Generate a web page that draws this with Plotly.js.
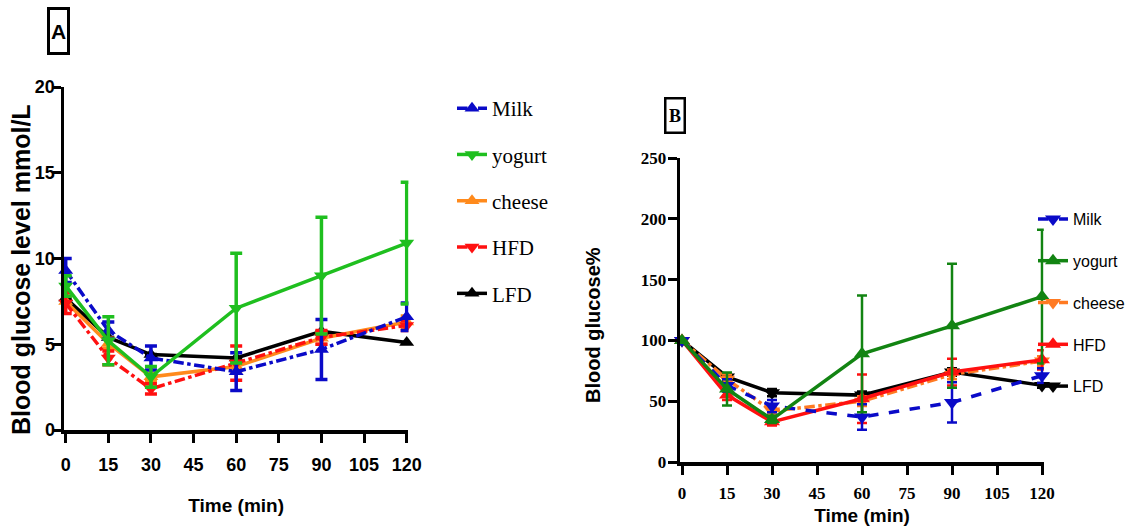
<!DOCTYPE html>
<html>
<head>
<meta charset="utf-8">
<script src="https://cdn.plot.ly/plotly-3.0.1.min.js"></script>
<style>html,body{margin:0;padding:0;background:#fff;}#chart{width:1133px;height:531px;}</style>
</head>
<body>
<div id="chart"></div>
<script>
// ---------- data ----------
const time = [0, 15, 30, 60, 90, 120];
const seriesNames = ["Milk", "yogurt", "cheese", "HFD", "LFD"];

// Panel A: blood glucose level (mmol/L)
const milkA      = [9.3, 5.8, 4.2, 3.4, 4.7, 6.6];
const milkAErr   = [0.7, 0.5, 0.7, 1.1, 1.75, 0.8];
const yogurtA    = [8.4, 5.2, 3.1, 7.1, 9.0, 10.9];
const yogurtAErr = [0.6, 1.4, 0.6, 3.2, 3.4, 3.55];
const cheeseA    = [7.5, 5.05, 3.1, 3.7, 5.35, 6.3];
const cheeseAErr = [0.3, 0.3, 0.2, 0.3, 0.35, 0.35];
const hfdA       = [7.4, 4.2, 2.4, 3.9, 5.4, 6.1];
const hfdAErr    = [0.6, 0.4, 0.3, 1.0, 0.4, 0.3];
const lfdA       = [7.7, 5.4, 4.4, 4.2, 5.75, 5.1];
const lfdAErr    = [0, 0, 0, 0, 0, 0];

// Panel B: blood glucose %
const milkB      = [100, 63, 46, 37, 49, 71];
const milkBErr   = [0, 5, 5, 10.5, 16.5, 6];
const yogurtB    = [100, 60, 35, 89, 112, 136];
const yogurtBErr = [0, 13.5, 3, 48, 51, 55];
const cheeseB    = [100, 68, 42, 50, 72, 83];
const cheeseBErr = [0, 4, 3, 4, 4, 4];
const hfdB       = [100, 55, 33, 52, 74, 84];
const hfdBErr    = [0, 4, 3, 20, 11, 8];
const lfdB       = [100, 70, 57, 55, 74, 63];
const lfdBErr    = [0, 3, 3, 3, 3, 2];

const xTicks = [0, 15, 30, 45, 60, 75, 90, 105, 120];
const yTicksA = [0, 5, 10, 15, 20];
const yTicksB = [0, 50, 100, 150, 200, 250];

// ---------- styles ----------
const stylesA = [
  {color: "#0a0ac8", dash: "dashdot", symbol: "triangle-up"},
  {color: "#1fbf1f", dash: "solid",   symbol: "triangle-down"},
  {color: "#ff8a1c", dash: "solid",   symbol: "triangle-up"},
  {color: "#ff1010", dash: "dashdot", symbol: "triangle-down"},
  {color: "#000000", dash: "solid",   symbol: "triangle-up"}
];
const stylesB = [
  {color: "#0a0ac8", dash: "dash",    symbol: "triangle-down"},
  {color: "#128412", dash: "solid",   symbol: "triangle-up"},
  {color: "#ff7a22", dash: "dashdot", symbol: "triangle-down"},
  {color: "#ff1010", dash: "solid",   symbol: "triangle-up"},
  {color: "#000000", dash: "solid",   symbol: "triangle-down"}
];

const valsA = [milkA, yogurtA, cheeseA, hfdA, lfdA];
const errsA = [milkAErr, yogurtAErr, cheeseAErr, hfdAErr, lfdAErr];
const valsB = [milkB, yogurtB, cheeseB, hfdB, lfdB];
const errsB = [milkBErr, yogurtBErr, cheeseBErr, hfdBErr, lfdBErr];

const traces = [];
const order = [4, 2, 3, 0, 1];
order.forEach(i => {
  const s = stylesA[i];
  traces.push({
    x: time, y: valsA[i], name: seriesNames[i], type: "scatter", mode: "lines+markers",
    xaxis: "x", yaxis: "y", legend: "legend", legendrank: i + 1,
    line: {color: s.color, width: 3.5, dash: s.dash},
    marker: {color: s.color, symbol: s.symbol, size: 13},
    error_y: {type: "data", array: errsA[i], visible: true, color: s.color, thickness: 3.5, width: 6},
    cliponaxis: false, legendgroup: "a" + i
  });
});
order.forEach(i => {
  const s = stylesB[i];
  traces.push({
    x: time, y: valsB[i], name: seriesNames[i], type: "scatter", mode: "lines+markers",
    xaxis: "x2", yaxis: "y2", legend: "legend2", legendrank: i + 1,
    line: {color: s.color, width: 3.5, dash: s.dash},
    marker: {color: s.color, symbol: s.symbol, size: 14},
    error_y: {type: "data", array: errsB[i], visible: true, color: s.color, thickness: 2.5, width: 5},
    cliponaxis: false, legendgroup: "b" + i
  });
});

const W = 1133, H = 531;
const fx = p => p / W;
const fy = p => 1 - p / H;

const serif = "Liberation Serif";
const sans = "Liberation Sans";

const axisCommon = {
  showline: true, linecolor: "#000", linewidth: 3.5, mirror: false,
  ticks: "outside", ticklen: 9, tickwidth: 3, tickcolor: "#000",
  showgrid: false, zeroline: false, fixedrange: true
};

const layout = {
  width: W, height: H,
  margin: {l: 0, r: 0, t: 0, b: 0},
  paper_bgcolor: "#fff", plot_bgcolor: "#fff",
  showlegend: true,
  xaxis: Object.assign({}, axisCommon, {
    domain: [fx(64.0), fx(408.4)], range: [-0.6, 120.6], tickvals: xTicks,
    tickfont: {family: sans, size: 18, color: "#000", weight: "bold"}, ticklabelstandoff: 7,
    anchor: "y",
    title: {text: "<b>Time (min)</b>", font: {family: sans, size: 19, color: "#000"}, standoff: 25}
  }),
  yaxis: Object.assign({}, axisCommon, {
    domain: [fy(430), fy(87)], range: [0, 20], tickvals: yTicksA, ticklen: 8,
    tickfont: {family: sans, size: 18, color: "#000", weight: "bold"}, ticklabelstandoff: -6,
    anchor: "x"
  }),
  xaxis2: Object.assign({}, axisCommon, {
    domain: [fx(680.2), fx(1043.8)], range: [-0.6, 120.6], tickvals: xTicks,
    tickfont: {family: serif, size: 17, color: "#000", weight: "bold"}, ticklabelstandoff: 4,
    anchor: "y2",
    title: {text: "<b>Time (min)</b>", font: {family: sans, size: 19, color: "#000"}, standoff: 8}
  }),
  yaxis2: Object.assign({}, axisCommon, {
    domain: [fy(462), fy(158)], range: [0, 250], tickvals: yTicksB,
    tickfont: {family: serif, size: 17, color: "#000", weight: "bold"}, ticklabelstandoff: -2,
    anchor: "x2"
  }),
  legend: {
    x: fx(452), y: fy(88), xanchor: "left", yanchor: "top",
    font: {family: serif, size: 21, color: "#000"},
    bgcolor: "rgba(0,0,0,0)", tracegroupgap: 16, itemwidth: 30, traceorder: "grouped"
  },
  legend2: {
    x: fx(1033), y: fy(202), xanchor: "left", yanchor: "top",
    font: {family: sans, size: 16, color: "#000"},
    bgcolor: "rgba(0,0,0,0)", tracegroupgap: 18, itemwidth: 30, traceorder: "grouped"
  },
  annotations: [
    {text: "<b>Blood glucose level mmol/L</b>", xref: "paper", yref: "paper", x: fx(21), y: fy(270),
     xanchor: "center", yanchor: "middle", textangle: -90, showarrow: false,
     font: {family: sans, size: 25, color: "#000"}},
    {text: "<b>Blood glucose%</b>", xref: "paper", yref: "paper", x: fx(593), y: fy(325),
     xanchor: "center", yanchor: "middle", textangle: -90, showarrow: false,
     font: {family: sans, size: 20, color: "#000"}},
    {text: "<b>A</b>", xref: "paper", yref: "paper", x: fx(58.5), y: fy(31), xanchor: "center", yanchor: "middle",
     showarrow: false, font: {family: "Liberation Sans", size: 21, color: "#000"},
     bordercolor: "#000", borderwidth: 3, width: 17, height: 42, borderpad: 0},
    {text: "<b>B</b>", xref: "paper", yref: "paper", x: fx(674.5), y: fy(115), xanchor: "center", yanchor: "middle",
     showarrow: false, font: {family: "Liberation Serif", size: 18, color: "#000"},
     bordercolor: "#000", borderwidth: 2.5, width: 17, height: 32, borderpad: 0}
  ]
};

Plotly.newPlot("chart", traces, layout, {displayModeBar: false, staticPlot: true});
</script>
</body>
</html>
